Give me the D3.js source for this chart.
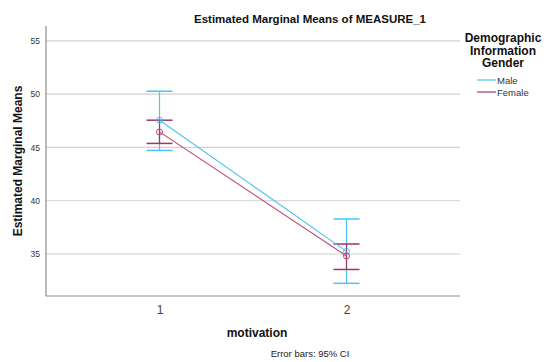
<!DOCTYPE html>
<html>
<head>
<meta charset="utf-8">
<script src="https://cdn.jsdelivr.net/npm/d3@7"></script>
<style>
  body { margin: 0; background: #fff; }
  svg { display: block; font-family: "Liberation Sans", Arial, sans-serif; }
</style>
</head>
<body>
<svg id="chart" width="544" height="362"></svg>
<script>
// ---- data ----
const categories = ["1", "2"];
const seriesNames = ["Male", "Female"];
const maleMeans = [47.56, 35.25];
const maleLower = [44.72, 32.25];
const maleUpper = [50.28, 38.29];
const femaleMeans = [46.46, 34.82];
const femaleLower = [45.38, 33.55];
const femaleUpper = [47.56, 35.94];
const yTicks = [35, 40, 45, 50, 55];

const series = [
  { name: seriesNames[0], means: maleMeans, lower: maleLower, upper: maleUpper, color: "#4cc3f4", capColor: "#4cc3f4" },
  { name: seriesNames[1], means: femaleMeans, lower: femaleLower, upper: femaleUpper, color: "#b8466f", capColor: "#a3345f" }
];

const svg = d3.select("#chart");
const pLeft = 46, pRight = 460, pTop = 26, pBottom = 296;

const x = d3.scalePoint().domain(categories).range([pLeft, pRight]).padding(0.607);
const y = d3.scaleLinear().domain([31.06, 56.4]).range([pBottom, pTop]);

// gridlines
svg.append("g").selectAll("line").data(yTicks).join("line")
  .attr("x1", pLeft).attr("x2", pRight)
  .attr("y1", d => y(d)).attr("y2", d => y(d))
  .attr("stroke", "#d0d0d0").attr("stroke-width", 1.2);

// y axis
const yAxis = svg.append("g").attr("transform", `translate(${pLeft},0)`)
  .call(d3.axisLeft(y).tickValues(yTicks).tickSize(0).tickPadding(6));
yAxis.select(".domain").remove();
yAxis.selectAll("text").attr("font-size", 8.5).attr("fill", "#333").attr("font-family", "Liberation Sans, Arial, sans-serif");

// axis lines
svg.append("line").attr("x1", pLeft).attr("x2", pLeft).attr("y1", pTop).attr("y2", pBottom)
  .attr("stroke", "#8c8c8c").attr("stroke-width", 1.2);
svg.append("line").attr("x1", pLeft).attr("x2", pRight).attr("y1", pBottom).attr("y2", pBottom)
  .attr("stroke", "#8c8c8c").attr("stroke-width", 1.2);

// x axis labels
const xAxis = svg.append("g").attr("transform", `translate(0,${pBottom})`)
  .call(d3.axisBottom(x).tickSize(0).tickPadding(9));
xAxis.select(".domain").remove();
xAxis.selectAll("text").attr("font-size", 12).attr("fill", "#444").attr("font-family", "Liberation Sans, Arial, sans-serif");

const capHalf = 13;
const line = d3.line().x((d, i) => x(categories[i])).y(d => y(d));

series.forEach(s => {
  const g = svg.append("g");
  categories.forEach((c, i) => {
    g.append("line").attr("x1", x(c)).attr("x2", x(c))
      .attr("y1", y(s.lower[i])).attr("y2", y(s.upper[i]))
      .attr("stroke", s.capColor).attr("stroke-width", 1.2);
    [s.lower[i], s.upper[i]].forEach(v => {
      g.append("line").attr("x1", x(c) - capHalf).attr("x2", x(c) + capHalf)
        .attr("y1", y(v)).attr("y2", y(v))
        .attr("stroke", s.capColor).attr("stroke-width", 1.5);
    });
  });
});

series.forEach(s => {
  const g = svg.append("g");
  g.append("path").datum(s.means).attr("d", line)
    .attr("fill", "none").attr("stroke", s.color).attr("stroke-width", 1.1);
  g.selectAll("circle").data(s.means).join("circle")
    .attr("cx", (d, i) => x(categories[i])).attr("cy", d => y(d))
    .attr("r", 3).attr("fill", "none").attr("stroke", s.color).attr("stroke-width", 1);
});

// title
svg.append("text").attr("x", 310).attr("y", 23).attr("text-anchor", "middle")
  .attr("font-size", 11.5).attr("font-weight", "bold").attr("fill", "#111")
  .text("Estimated Marginal Means of MEASURE_1");

// y label
svg.append("text").attr("transform", `translate(22,${(pTop + pBottom) / 2}) rotate(-90)`)
  .attr("text-anchor", "middle").attr("font-size", 12).attr("font-weight", "bold").attr("fill", "#111")
  .text("Estimated Marginal Means");

// x label
svg.append("text").attr("x", 257).attr("y", 337).attr("text-anchor", "middle")
  .attr("font-size", 12).attr("font-weight", "bold").attr("fill", "#111")
  .text("motivation");

// footnote
svg.append("text").attr("x", 310).attr("y", 357).attr("text-anchor", "middle")
  .attr("font-size", 9.5).attr("fill", "#222")
  .text("Error bars: 95% CI");

// legend
const legTitle = ["Demographic", "Information", "Gender"];
svg.append("g").selectAll("text").data(legTitle).join("text")
  .attr("x", 503).attr("y", (d, i) => 42 + i * 12.5).attr("text-anchor", "middle")
  .attr("font-size", 12).attr("font-weight", "bold").attr("fill", "#111")
  .text(d => d);

const leg = svg.append("g").selectAll("g").data(series).join("g")
  .attr("transform", (d, i) => `translate(477,${80 + i * 12})`);
leg.append("line").attr("x1", 0).attr("x2", 19).attr("y1", 0).attr("y2", 0)
  .attr("stroke", (d, i) => i === 0 ? d.color : "#c98aa3").attr("stroke-width", (d, i) => i === 0 ? 1.2 : 2);
leg.append("text").attr("x", 20).attr("y", 3.5).attr("font-size", 9.5).attr("fill", "#333")
  .text(d => d.name);
</script>
</body>
</html>
